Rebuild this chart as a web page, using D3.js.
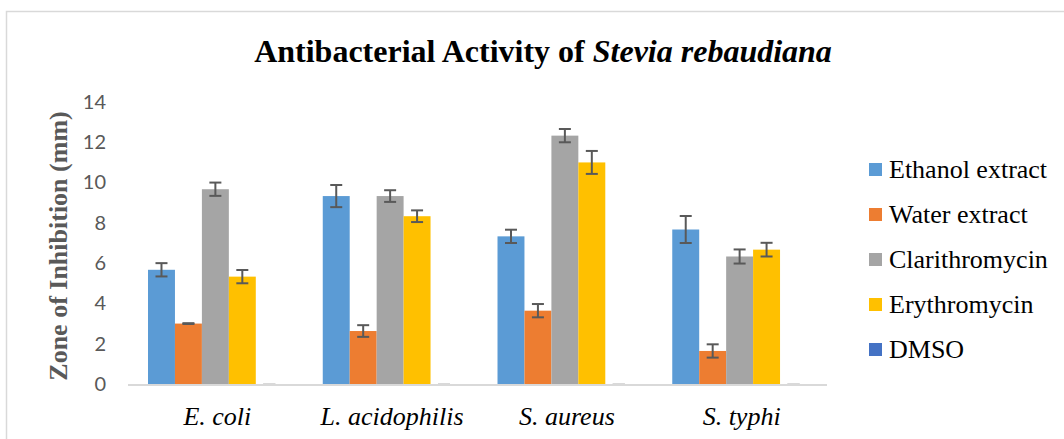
<!DOCTYPE html>
<html>
<head>
<meta charset="utf-8">
<script src="https://cdn.jsdelivr.net/npm/d3@7"></script>
<style>
  body { margin: 0; background: #fff; }
</style>
</head>
<body>
<div id="vis"></div>
<script>
// data
const CATEGORIES = ["E. coli", "L. acidophilis", "S. aureus", "S. typhi"];
const SERIES = ["Ethanol extract", "Water extract", "Clarithromycin", "Erythromycin", "DMSO"];
const COLORS = ["#5B9BD5", "#ED7D31", "#A5A5A5", "#FFC000", "#4472C4"];

// one array per series, one value per category
const ETHANOL = [5.67, 9.33, 7.33, 7.67];
const WATER = [3.0, 2.63, 3.64, 1.64];
const CLARITHRO = [9.67, 9.33, 12.33, 6.33];
const ERYTHRO = [5.33, 8.33, 11.0, 6.67];
const DMSO = [0, 0, 0, 0];

const ETHANOL_ERR = [0.33, 0.55, 0.33, 0.67];
const WATER_ERR = [0.02, 0.29, 0.33, 0.33];
const CLARITHRO_ERR = [0.33, 0.29, 0.33, 0.35];
const ERYTHRO_ERR = [0.33, 0.29, 0.57, 0.34];
const DMSO_ERR = [0, 0, 0, 0];

const Y_TICKS = [0, 2, 4, 6, 8, 10, 12, 14];

const VALUES = [ETHANOL, WATER, CLARITHRO, ERYTHRO, DMSO];
const ERRORS = [ETHANOL_ERR, WATER_ERR, CLARITHRO_ERR, ERYTHRO_ERR, DMSO_ERR];

const SERIF = "'Liberation Serif', 'Times New Roman', serif";

//build frame
const FRAME_WIDTH = 1064;
const FRAME_HEIGHT = 439;
const MARGINS = {left: 128, right: 237, top: 102, bottom: 55};
const VIS_WIDTH = FRAME_WIDTH - MARGINS.left - MARGINS.right;
const VIS_HEIGHT = FRAME_HEIGHT - MARGINS.top - MARGINS.bottom;

const FRAME = d3.select("#vis")
  .append("svg")
  .attr("width", FRAME_WIDTH)
  .attr("height", FRAME_HEIGHT);

// chart area border (runs off the picture on the right and bottom)
FRAME.append("rect")
  .attr("x", 6.5)
  .attr("y", 11.5)
  .attr("width", 1100)
  .attr("height", 500)
  .attr("fill", "none")
  .attr("stroke", "#d9d9d9")
  .attr("stroke-width", 1.5);

// title
const title = FRAME.append("text")
  .attr("x", 543)
  .attr("y", 62)
  .attr("text-anchor", "middle")
  .attr("font-family", SERIF)
  .attr("font-weight", "bold")
  .attr("font-size", "32px")
  .attr("fill", "#000");
title.append("tspan").text("Antibacterial Activity of ");
title.append("tspan").attr("font-style", "italic").text("Stevia rebaudiana");

//scales
const X_SCALE = d3.scaleBand()
  .domain(CATEGORIES)
  .range([0, VIS_WIDTH])
  .paddingInner(0.229)
  .paddingOuter(0.1145);

const X_INNER = d3.scaleBand()
  .domain(SERIES)
  .range([0, X_SCALE.bandwidth()]);

const Y_SCALE = d3.scaleLinear()
  .domain([0, 14])
  .range([VIS_HEIGHT, 0]);

const G = FRAME.append("g")
  .attr("transform", "translate(" + MARGINS.left + "," + MARGINS.top + ")");

// y axis labels
const yAxis = G.append("g")
  .call(d3.axisLeft(Y_SCALE).tickValues(Y_TICKS).tickSize(0).tickPadding(22))
  .attr("font-family", "Lato, 'Open Sans', sans-serif")
  .attr("font-size", "20px");
yAxis.select(".domain").remove();
yAxis.selectAll("text").attr("fill", "#595959");

// y axis title
FRAME.append("text")
  .attr("transform", "translate(67," + (MARGINS.top + VIS_HEIGHT / 2 + 3) + ") rotate(-90)")
  .attr("text-anchor", "middle")
  .attr("font-family", SERIF)
  .attr("font-weight", "bold")
  .attr("font-size", "26px")
  .attr("fill", "#595959")
  .text("Zone of Inhibition (mm)");

// bars
const rows = [];
CATEGORIES.forEach((c, i) => {
  SERIES.forEach((s, j) => {
    rows.push({cat: c, series: s, color: COLORS[j], value: VALUES[j][i], err: ERRORS[j][i]});
  });
});

G.selectAll(".bar")
  .data(rows)
  .enter()
  .append("rect")
  .attr("class", "bar")
  .attr("x", (d) => X_SCALE(d.cat) + X_INNER(d.series))
  .attr("y", (d) => Y_SCALE(d.value))
  .attr("width", X_INNER.bandwidth())
  .attr("height", (d) => VIS_HEIGHT - Y_SCALE(d.value))
  .attr("fill", (d) => d.color);

// x axis baseline
G.append("line")
  .attr("x1", 0)
  .attr("x2", VIS_WIDTH)
  .attr("y1", VIS_HEIGHT + 1)
  .attr("y2", VIS_HEIGHT + 1)
  .attr("stroke", "#d9d9d9")
  .attr("stroke-width", 2);

// error bars
const CAP = 6;
const errG = G.selectAll(".err")
  .data(rows)
  .enter()
  .append("g")
  .attr("class", "err")
  .attr("stroke", (d) => d.value === 0 ? "#d9d9d9" : "#595959")
  .attr("stroke-width", 2);

const cx = (d) => X_SCALE(d.cat) + X_INNER(d.series) + X_INNER.bandwidth() / 2;

errG.append("line")
  .attr("x1", cx).attr("x2", cx)
  .attr("y1", (d) => Y_SCALE(d.value + d.err))
  .attr("y2", (d) => Y_SCALE(d.value - d.err));
errG.append("line")
  .attr("x1", (d) => cx(d) - CAP).attr("x2", (d) => cx(d) + CAP)
  .attr("y1", (d) => Y_SCALE(d.value + d.err))
  .attr("y2", (d) => Y_SCALE(d.value + d.err));
errG.append("line")
  .attr("x1", (d) => cx(d) - CAP).attr("x2", (d) => cx(d) + CAP)
  .attr("y1", (d) => Y_SCALE(Math.max(0, d.value - d.err)))
  .attr("y2", (d) => Y_SCALE(Math.max(0, d.value - d.err)));

// category labels
G.selectAll(".cat")
  .data(CATEGORIES)
  .enter()
  .append("text")
  .attr("class", "cat")
  .attr("x", (d) => X_SCALE(d) + X_SCALE.bandwidth() / 2 + 2)
  .attr("y", VIS_HEIGHT + 41)
  .attr("text-anchor", "middle")
  .attr("font-family", SERIF)
  .attr("font-style", "italic")
  .attr("font-size", "26px")
  .attr("fill", "#000")
  .text((d) => d);

// legend
const legend = FRAME.selectAll(".legend")
  .data(SERIES)
  .enter()
  .append("g")
  .attr("class", "legend")
  .attr("transform", (d, i) => "translate(869," + (170 + i * 45) + ")");

legend.append("rect")
  .attr("x", 0)
  .attr("y", -7)
  .attr("width", 13)
  .attr("height", 13)
  .attr("fill", (d, i) => COLORS[i]);

legend.append("text")
  .attr("x", 20)
  .attr("y", 8)
  .attr("font-family", SERIF)
  .attr("font-size", "26px")
  .attr("fill", "#000")
  .text((d) => d);
</script>
</body>
</html>
